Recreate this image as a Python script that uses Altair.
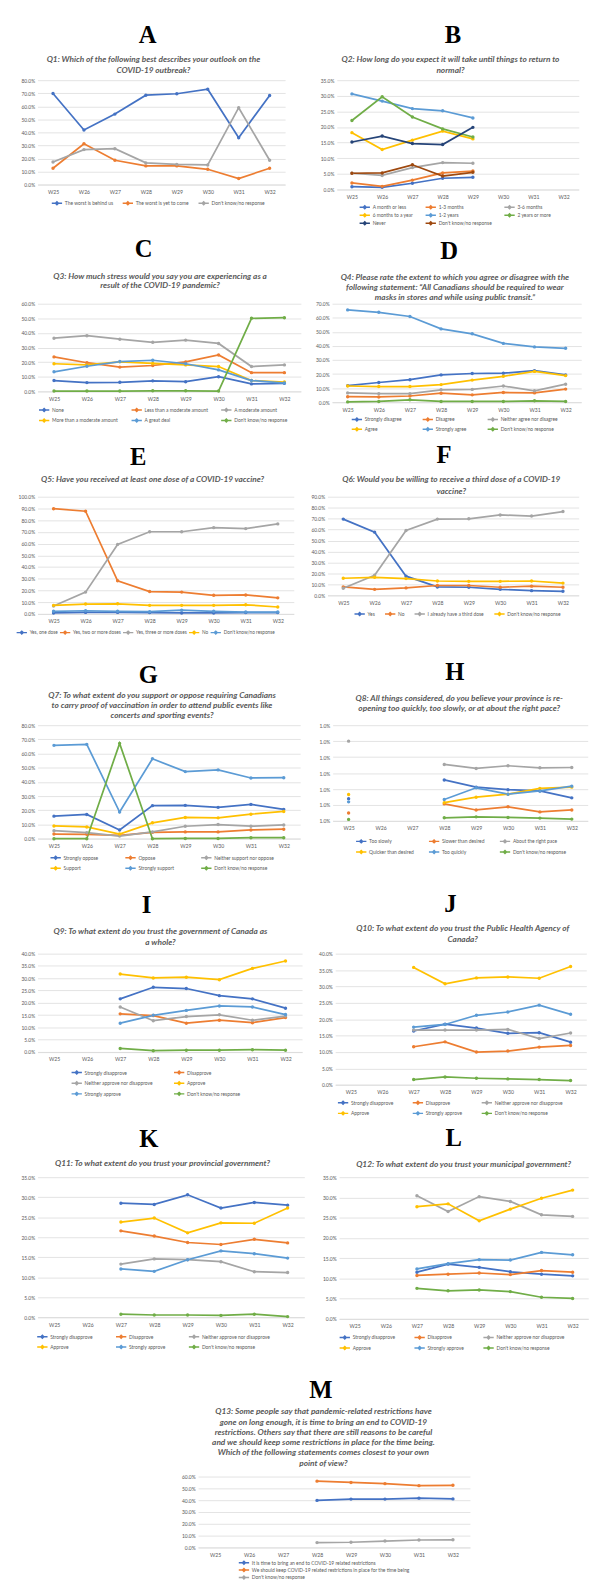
import altair as alt
import pandas as pd

WEEKS = ["W25", "W26", "W27", "W28", "W29", "W30", "W31", "W32"]

BLUE, ORANGE, GRAY, GOLD = "#4472C4", "#ED7D31", "#A5A5A5", "#FFC000"
LBLUE, GREEN, DBLUE, BROWN = "#5B9BD5", "#70AD47", "#264478", "#9E480E"
STD6 = [BLUE, ORANGE, GRAY, GOLD, LBLUE, GREEN]

# ---------------- data (percent) ----------------
A_DATA = {
    "The worst is behind us": [69.8, 41.8, 54.0, 68.5, 69.6, 73.1, 35.9, 68.3],
    "The worst is yet to come": [12.5, 31.3, 18.6, 14.3, 14.3, 11.7, 4.6, 12.5],
    "Don't know/no response": [17.3, 26.8, 27.5, 16.6, 15.5, 15.0, 58.9, 18.6],
}
B_DATA = {
    "A month or less": [0.9, 0.7, 2.0, 3.6, 3.9, None, None, None],
    "1-3 months": [2.1, 1.0, 3.0, 5.3, 5.9, None, None, None],
    "3-6 months": [5.2, 4.5, 7.0, 8.6, 8.4, None, None, None],
    "6 months to a year": [18.2, 12.8, 15.8, 18.7, 16.2, None, None, None],
    "1-2 years": [30.6, 28.3, 25.9, 25.2, 22.9, None, None, None],
    "2 years or more": [22.1, 29.7, 23.2, 19.4, 16.8, None, None, None],
    "Never": [15.2, 17.1, 14.7, 14.4, 19.9, None, None, None],
    "Don't know/no response": [5.2, 5.3, 7.9, 4.3, 5.5, None, None, None],
}
C_DATA = {
    "None": [7.4, 6.0, 6.2, 7.2, 6.6, 10.0, 5.1, 5.5],
    "Less than a moderate amount": [23.6, 19.6, 16.6, 17.7, 20.2, 24.9, 12.8, 12.8],
    "A moderate amount": [36.4, 38.1, 35.7, 33.6, 35.1, 32.8, 17.0, 18.1],
    "More than a moderate amount": [18.9, 18.1, 20.2, 19.1, 18.1, 17.0, 7.4, 6.4],
    "A great deal": [13.4, 17.2, 20.4, 21.3, 18.9, 14.7, 7.4, 5.7],
    "Don't know/no response": [0.2, 0.2, 0.2, 0.4, 0.4, 0.2, 50.0, 50.4],
}
D_DATA = {
    "Strongly disagree": [11.8, 14.0, 16.0, 19.4, 20.4, 20.6, 22.4, 19.4],
    "Disagree": [3.9, 3.7, 4.4, 6.4, 5.2, 6.9, 6.6, 9.3],
    "Neither agree nor disagree": [6.6, 6.1, 6.1, 8.8, 9.1, 11.5, 8.1, 12.8],
    "Agree": [11.5, 11.1, 11.1, 12.5, 15.7, 18.4, 21.9, 18.9],
    "Strongly agree": [65.6, 63.9, 60.9, 52.1, 48.6, 41.8, 39.3, 38.3],
    "Don't know/no response": [0.2, 0.5, 1.7, 0.5, 0.5, 0.5, 1.0, 0.5],
}
E_DATA = {
    "Yes, one dose": [0.8, 1.3, 1.3, 1.1, 0.8, 0.8, 1.1, 1.1],
    "Yes, two or more doses": [89.8, 87.6, 28.3, 19.1, 18.6, 15.9, 16.2, 13.7],
    "Yes, three or more doses": [6.7, 18.6, 59.3, 70.1, 70.1, 73.6, 72.8, 76.8],
    "No": [7.3, 8.4, 8.6, 7.3, 7.3, 7.3, 7.8, 5.9],
    "Don't know/no response": [2.2, 2.7, 2.2, 1.9, 3.2, 2.2, 1.6, 1.6],
}
F_DATA = {
    "Yes": [69.6, 57.7, 17.6, 7.8, 7.5, 5.6, 4.4, 3.8],
    "No": [7.8, 5.6, 6.9, 9.1, 9.1, 7.5, 8.5, 7.5],
    "I already have a third dose": [6.6, 18.5, 59.2, 69.6, 69.9, 73.4, 72.4, 76.5],
    "Don't know/no response": [15.7, 16.6, 15.4, 13.2, 12.9, 12.9, 13.2, 11.3],
}
G_DATA = {
    "Strongly oppose": [15.9, 17.1, 6.2, 23.3, 23.5, 22.1, 24.2, 20.7],
    "Oppose": [3.3, 3.1, 2.4, 4.5, 4.8, 4.8, 6.2, 6.7],
    "Neither support nor oppose": [5.7, 4.3, 1.9, 4.8, 8.8, 10.0, 8.8, 9.7],
    "Support": [9.0, 8.3, 3.3, 11.2, 15.0, 14.7, 17.3, 19.2],
    "Strongly support": [65.8, 66.5, 18.8, 56.3, 47.3, 48.5, 42.8, 43.0],
    "Don't know/no response": [0.0, 0.0, 67.2, 0.0, 0.2, 0.2, 0.7, 0.7],
}
H_DATA = {
    "Too slowly": [14.0, None, None, 25.7, 21.2, 19.6, 18.8, 14.5],
    "Slower than desired": [5.0, None, None, 10.7, 6.9, 8.9, 5.7, 6.9],
    "About the right pace": [50.0, None, None, 35.4, 32.9, 34.6, 33.3, 33.5],
    "Quicker than desired": [16.6, None, None, 11.5, 14.9, 16.8, 20.4, 21.2],
    "Too quickly": [12.0, None, None, 13.5, 20.8, 16.8, 18.8, 21.8],
    "Don't know/no response": [1.0, None, None, 2.0, 2.6, 2.2, 1.8, 1.2],
}
I_DATA = {
    "Strongly disapprove": [None, None, 21.6, 26.3, 25.8, 22.9, 21.6, 17.8],
    "Disapprove": [None, None, 15.5, 14.8, 11.7, 12.9, 11.9, 14.0],
    "Neither approve nor disapprove": [None, None, 18.3, 12.7, 14.4, 15.1, 12.9, 14.6],
    "Approve": [None, None, 31.7, 30.1, 30.4, 29.4, 34.0, 37.0],
    "Strongly approve": [None, None, 11.7, 14.9, 16.9, 18.7, 18.3, 15.2],
    "Don't know/no response": [None, None, 1.4, 0.5, 0.7, 0.7, 0.9, 0.7],
}
J_DATA = {
    "Strongly disapprove": [None, None, 16.4, 18.5, 17.3, 15.7, 15.9, 13.0],
    "Disapprove": [None, None, 11.6, 13.1, 10.0, 10.3, 11.5, 12.0],
    "Neither approve nor disapprove": [None, None, 16.7, 16.7, 16.7, 16.9, 14.1, 15.8],
    "Approve": [None, None, 35.8, 30.8, 32.6, 32.9, 32.5, 36.1],
    "Strongly approve": [None, None, 17.6, 18.4, 21.2, 22.2, 24.3, 21.5],
    "Don't know/no response": [None, None, 1.6, 2.4, 2.0, 1.8, 1.6, 1.3],
}
K_DATA = {
    "Strongly disapprove": [None, None, 28.5, 28.2, 30.6, 27.3, 28.7, 28.0],
    "Disapprove": [None, None, 21.6, 20.3, 18.7, 18.2, 19.5, 18.6],
    "Neither approve nor disapprove": [None, None, 13.3, 14.6, 14.4, 13.9, 11.4, 11.2],
    "Approve": [None, None, 23.8, 24.8, 21.1, 23.6, 23.5, 27.3],
    "Strongly approve": [None, None, 12.1, 11.5, 14.4, 16.6, 15.9, 14.8],
    "Don't know/no response": [None, None, 0.8, 0.6, 0.6, 0.5, 0.8, 0.2],
}
L_DATA = {
    "Strongly disapprove": [None, None, 11.5, 13.5, 12.7, 11.6, 11.0, 10.6],
    "Disapprove": [None, None, 10.7, 11.0, 11.3, 10.9, 11.9, 11.5],
    "Neither approve nor disapprove": [None, None, 30.4, 26.5, 30.2, 29.0, 25.7, 25.3],
    "Approve": [None, None, 27.7, 28.4, 24.2, 27.1, 29.8, 31.8],
    "Strongly approve": [None, None, 12.3, 13.6, 14.6, 14.5, 16.4, 15.8],
    "Don't know/no response": [None, None, 7.5, 6.9, 7.1, 6.7, 5.3, 5.0],
}
M_DATA = {
    "It is time to bring an end to COVID-19 related restrictions": [None, None, None, 39.8, 40.9, 40.9, 41.7, 41.1],
    "We should keep COVID-19 related restrictions in place for the time being": [None, None, None, 56.1, 55.0, 54.0, 52.3, 52.6],
    "Don't know/no response": [None, None, None, 4.1, 4.4, 5.4, 6.3, 6.5],
}

Q = {
    "A": ["Q1: Which of the following best describes your outlook on the", "COVID-19 outbreak?"],
    "B": ["Q2: How long do you expect it will take until things to return to", "normal?"],
    "C": ["Q3: How much stress would you say you are experiencing as a", "result of the COVID-19 pandemic?"],
    "D": ["Q4: Please rate the extent to which you agree or disagree with the",
          "following statement: \u201cAll Canadians should be required to wear",
          "masks in stores and while using public transit.\u201d"],
    "E": ["Q5: Have you received at least one dose of a COVID-19 vaccine?"],
    "F": ["Q6: Would you be willing to receive a third dose of a COVID-19", "vaccine?"],
    "G": ["Q7: To what extent do you support or oppose requiring Canadians",
          "to carry proof of vaccination in order to attend public events like",
          "concerts and sporting events?"],
    "H": ["Q8: All things considered, do you believe your province is re-",
          "opening too quickly, too slowly, or at about the right pace?"],
    "I": ["Q9: To what extent do you trust the government of Canada as", "a whole?"],
    "J": ["Q10: To what extent do you trust the Public Health Agency of", "Canada?"],
    "K": ["Q11: To what extent do you trust your provincial government?"],
    "L": ["Q12: To what extent do you trust your municipal government?"],
    "M": ["Q13: Some people say that pandemic-related restrictions have",
          "gone on long enough, it is time to bring an end to COVID-19",
          "restrictions. Others say that there are still reasons to be careful",
          "and we should keep some restrictions in place for the time being.",
          "Which of the following statements comes closest to your own",
          "point of view?"],
}

SYM = "M-1,0H1M-0.28,0L0,-0.28L0.28,0L0,0.28Z"
ONE = pd.DataFrame({"k": [0]})


def make_df(data):
    rows = []
    for s, vals in data.items():
        seg = 0
        for w, v in zip(WEEKS, vals):
            if v is None:
                seg += 1
                continue
            rows.append({"week": w, "series": s, "value": v, "seg": f"{s}#{seg}"})
    return pd.DataFrame(rows)


def panel(letter, data, colors, ymax, ystep, width, height, yext, frame, let_pos, q_pos, leg,
          label_expr=None, leg_font=5.0):
    top_rel, bot_rel = frame
    let_cx, let_y = let_pos
    q_cx, q_ys = q_pos
    cols, lx, ly, colpad, rowpad, clip = leg
    df = make_df(data)
    names = list(data.keys())
    ticks = list(range(0, ymax + 1, ystep))
    lab = label_expr or "format(datum.value, '.1f') + '%'"
    x = alt.X("week:N", scale=alt.Scale(domain=WEEKS, type="point", padding=0.5),
              axis=alt.Axis(title=None, labelAngle=0, ticks=False, grid=False,
                            domainColor="#D9D9D9", domainWidth=0.75, labelPadding=5,
                            labelFontSize=5.2))
    y = alt.Y("value:Q", scale=alt.Scale(domain=[0, ymax], nice=False),
              axis=alt.Axis(title=None, values=ticks, labelExpr=lab, domain=False,
                            ticks=False, grid=True, gridColor="#D9D9D9", gridWidth=0.75,
                            minExtent=yext, maxExtent=yext, labelPadding=3,
                            labelFontSize=5))
    color = alt.Color("series:N", sort=names,
                      scale=alt.Scale(domain=names, range=colors),
                      legend=alt.Legend(title=None, orient="none", legendX=lx, legendY=ly,
                                        direction="horizontal", columns=cols, gridAlign="each",
                                        columnPadding=colpad, rowPadding=rowpad, clipHeight=clip,
                                        symbolType=SYM, symbolSize=110, symbolStrokeWidth=1.5,
                                        labelFontSize=leg_font, labelFont="Lato",
                                        labelColor="#595959", labelLimit=250, labelOffset=2,
                                        padding=0))
    base = alt.Chart(df).encode(x=x, y=y, color=color, detail="seg:N")
    layers = [base.mark_line(strokeWidth=1.75),
              base.mark_point(filled=True, size=12, opacity=1)]
    layers.append(alt.Chart(ONE).mark_text(
        text=letter, font="Liberation Serif", fontSize=25, fontWeight="bold", color="#000000",
        align="center", baseline="alphabetic").encode(x=alt.value(let_cx), y=alt.value(let_y)))
    for line, yy in zip(Q[letter], q_ys):
        layers.append(alt.Chart(ONE).mark_text(
            text=line, font="Lato", fontSize=8.4, fontStyle="italic", fontWeight="bold",
            color="#595959", align="center", baseline="alphabetic").encode(
            x=alt.value(q_cx), y=alt.value(yy)))
    for yy in (top_rel, bot_rel):
        layers.append(alt.Chart(ONE).mark_point(filled=True, size=0.01, opacity=0).encode(
            x=alt.value(0), y=alt.value(yy)))
    return alt.layer(*layers).properties(width=width, height=height)


def spacer(w, h):
    return alt.Chart(ONE).mark_point(filled=True, opacity=0, size=0.01).encode(
        x=alt.value(0), y=alt.value(0)).properties(width=w, height=h)


# row 1: plot top 68, rows span 8..224
pA = panel("A", A_DATA, [BLUE, ORANGE, GRAY], 80, 10, 251.4, 106, 16.3, (-60, 156),
           (111.7, -37.5), (117.7, [-18.5, -7.5]), (3, 13.7, 121, 8, 0, 8))
pB = panel("B", B_DATA, [BLUE, ORANGE, GRAY, GOLD, LBLUE, GREEN, DBLUE, BROWN], 35, 5, 245.7, 111, 17,
           (-60, 156), (118, -38), (115.4, [-18.5, -7.5]), (3, 22.4, 125, 11, 0.2, 8))
# row 2: plot top 293, rows span 224..432
pC = panel("C", C_DATA, STD6, 60, 10, 267.4, 89, 20.3, (-69, 139),
           (107.7, -47.5), (124.4, [-25.5, -16]), (3, 0.7, 104, 12, 2.5, 8))
pD = panel("D", D_DATA, STD6, 70, 10, 253, 100, 17, (-69, 139),
           (118.9, -45), (124.7, [-24, -14, -4]), (3, 19.2, 113.5, 20, 2, 8))
# row 3: plot top 487, rows span 432..645
pE = panel("E", E_DATA, [BLUE, ORANGE, GRAY, GOLD, LBLUE], 100, 10, 260.2, 119, 25.7, (-55, 158),
           (102.3, -32), (116.8, [-14.5]), (5, -22, 134, 1, 0, 8), leg_font=4.8)
pF = panel("F", F_DATA, [BLUE, ORANGE, GRAY, GOLD], 90, 10, 255, 100.3, 17, (-55, 158),
           (118.3, -34), (125.6, [-14.5, -3]), (4, 26.6, 115, 9, 0, 8))
# row 4: plot top 717, rows span 645..878
pG = panel("G", G_DATA, STD6, 80, 10, 266.7, 115.3, 15.6, (-72, 161),
           (112.4, -43), (126.4, [-28, -17, -7]), (3, 12.4, 130.7, 26, 2.6, 8))
pH = panel("H", H_DATA, STD6, 60, 10, 259, 97.3, 17, (-72, 161),
           (124, -45.5), (128.5, [-24.5, -14.5]), (3, 23, 114, 14, 2.7, 8),
           label_expr="'1.0%'")
# row 5: plot top 947.5, rows span 878..1120
pI = panel("I", I_DATA, STD6, 40, 5, 268.6, 99.8, 17.2, (-69.5, 172.5),
           (110.8, -41.5), (124.8, [-20, -9]), (2, 33.8, 116.8, 20, 2.8, 8))
pJ = panel("J", J_DATA, STD6, 40, 5, 255, 133.2, 17, (-69.5, 172.5),
           (117, -42.5), (129.5, [-23.5, -11.5]), (3, 2, 147.5, 18, 2.7, 8))
# row 6: plot top 1173.3, rows span 1120..1367
pK = panel("K", K_DATA, STD6, 35, 5, 270.9, 142.4, 15.1, (-53.3, 193.7),
           (112.9, -30.8), (126.9, [-11.8]), (3, -1.1, 158, 22, 2.4, 8))
pL = panel("L", L_DATA, STD6, 35, 5, 253, 143.7, 17, (-53.3, 193.7),
           (116.5, -31.8), (126.5, [-10.8]), (3, -0.2, 158.7, 18, 2.7, 8))
# row 7: plot top 1476, rows span 1367..1583
pM = panel("M", M_DATA, [BLUE, ORANGE, GRAY], 60, 10, 276.1, 72, 17, (-109, 107),
           (124.6, -79.5), (127.3, [-63.2, -52.5, -42.5, -31.8, -21.5, -10.8]),
           (1, 40.6, 84, 10, 0.5, 7))


def indep(c):
    return c.resolve_scale(color="independent", x="independent", y="independent").resolve_legend(
        color="independent")


rows = [
    indep(alt.hconcat(pA, pB, spacing=34.9)),
    indep(alt.hconcat(pC, pD, spacing=14.1)),
    indep(alt.hconcat(pE, pF, spacing=16.5)),
    indep(alt.hconcat(pG, pH, spacing=15.7)),
    indep(alt.hconcat(pI, pJ, spacing=16.25)),
    indep(alt.hconcat(pK, pL, spacing=18.2)),
    indep(alt.hconcat(spacer(145.4, 10), pM, spacing=0)),
]

chart = indep(alt.vconcat(*rows, spacing=0))

chart = chart.properties(padding={"left": 4, "top": 0, "right": 0, "bottom": 0}).configure_view(
    stroke=None
).configure_axis(labelFont="Lato", labelColor="#595959")

chart.save("out.html", embed_options={"renderer": "svg", "actions": False})
